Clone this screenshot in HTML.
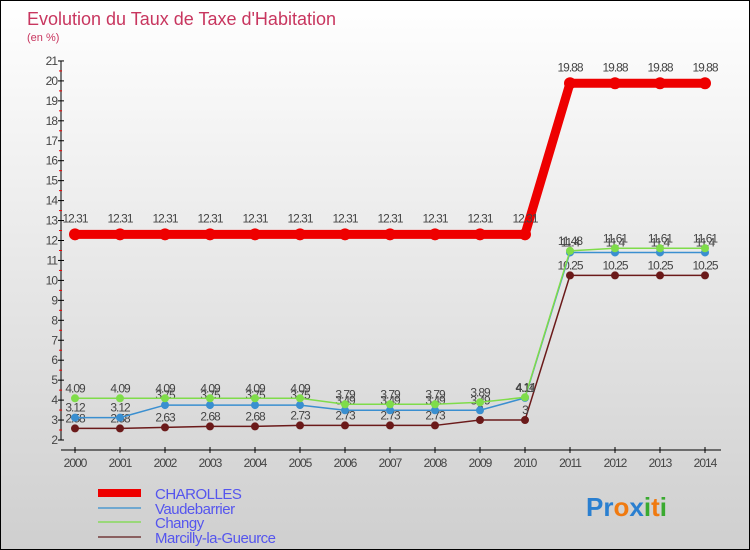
<!DOCTYPE html>
<html><head><meta charset="utf-8"><style>
body{margin:0}
#c{position:relative;width:748px;height:548px;border:1px solid #000;background:linear-gradient(#ffffff,#cfcfcf);font-family:"Liberation Sans",sans-serif;overflow:hidden}
</style></head><body>
<div id="c">
<svg id="s" width="748" height="548" style="position:absolute;left:0;top:0"></svg>
</div>
<script>
const years=[2000,2001,2002,2003,2004,2005,2006,2007,2008,2009,2010,2011,2012,2013,2014];
const charolles=[12.31,12.31,12.31,12.31,12.31,12.31,12.31,12.31,12.31,12.31,12.31,19.88,19.88,19.88,19.88];
const vaudebarrier=[3.12,3.12,3.75,3.75,3.75,3.75,3.49,3.49,3.49,3.49,4.11,11.4,11.4,11.4,11.4];
const changy=[4.09,4.09,4.09,4.09,4.09,4.09,3.79,3.79,3.79,3.89,4.14,11.48,11.61,11.61,11.61];
const marcilly=[2.58,2.58,2.63,2.68,2.68,2.73,2.73,2.73,2.73,3,3,10.25,10.25,10.25,10.25];
const yTicks=[2,3,4,5,6,7,8,9,10,11,12,13,14,15,16,17,18,19,20,21];
const seriesNames=["CHAROLLES","Vaudebarrier","Changy","Marcilly-la-Gueurce"];
const NS="http://www.w3.org/2000/svg";
const s=document.getElementById('s');
const X=i=>74+i*45, Y=v=>439-(v-2)*19.95;
function el(t,a,p){const e=document.createElementNS(NS,t);for(const k in a)e.setAttribute(k,a[k]);(p||s).appendChild(e);return e;}
function txt(x,y,str,a){const e=el('text',Object.assign({x:x,y:y},a));e.textContent=str;return e;}
let t=txt(26,24,"Evolution du Taux de Taxe d'Habitation",{'font-size':18,fill:'#c8365f'});

t=txt(26,40,"(en %)",{'font-size':11,fill:'#c8365f'});

let ax=el('line',{x1:60,y1:Y(21),x2:60,y2:Y(2),stroke:'#000','stroke-width':1});

ax=el('line',{x1:60,y1:449,x2:720,y2:449,stroke:'#000','stroke-width':1});

yTicks.forEach(v=>{
 el('line',{x1:57,y1:Y(v),x2:63,y2:Y(v),stroke:'#000'});
 if(v<21) el('line',{x1:58,y1:Y(v+0.5),x2:61,y2:Y(v+0.5),stroke:'#e00'});
 const l=txt(56,Y(v)+4,String(v),{'font-size':12,fill:'#444','text-anchor':'end','letter-spacing':'-1'});
 
});
years.forEach((y,i)=>{
 el('line',{x1:X(i),y1:446,x2:X(i),y2:452,stroke:'#000'});
 const l=txt(X(i),466,String(y),{'font-size':12,fill:'#444','text-anchor':'middle','letter-spacing':'-1'});
 
});
function series(vals,color,w,r,name,labelDy){
 const g=el('g',{});
 
 el('polyline',{points:vals.map((v,i)=>X(i)+','+Y(v)).join(' '),fill:'none',stroke:color,'stroke-width':w},g);
 vals.forEach((v,i)=>{
  const c=el('circle',{cx:X(i),cy:Y(v),r:r,fill:color},g);
  
  const l=txt(X(i),Y(v)+labelDy,String(v),{'font-size':12,fill:'#444','text-anchor':'middle','letter-spacing':'-1'});
  g.appendChild(l);
 });
}
series(marcilly,'#6b1a1a',1.5,4,'series-marcilly',-6);
series(vaudebarrier,'#3a8fd0',1.5,4,'series-vaudebarrier',-6);
series(changy,'#7fdc4a',1.5,4,'series-changy',-6);
series(charolles,'#ee0000',9,6,'series-charolles',-12);
const lc=['#ee0000','#6fa8d0','#9ad87a','#8a6060'],lw=[8,2,2,2],ly=[492,507,521,536];
seriesNames.forEach((n,i)=>{
 const g=el('g',{});
 
 el('line',{x1:97,y1:ly[i],x2:140,y2:ly[i],stroke:lc[i],'stroke-width':lw[i]},g);
 const l=txt(154,ly[i]+6,n,{'font-size':15,fill:'#5555ee','letter-spacing':'-0.5'});
 g.appendChild(l);
});
const lg=el('text',{x:585,y:515,'font-size':26,'font-weight':'bold'});

[['Pr','#2a7fd0'],['o','#f07a10'],['x','#2a7fd0'],['i','#3aaa30'],['t','#f07a10'],['i','#3aaa30']].forEach(p=>{const ts=el('tspan',{fill:p[1]},lg);ts.textContent=p[0];});
</script>
</body></html>
